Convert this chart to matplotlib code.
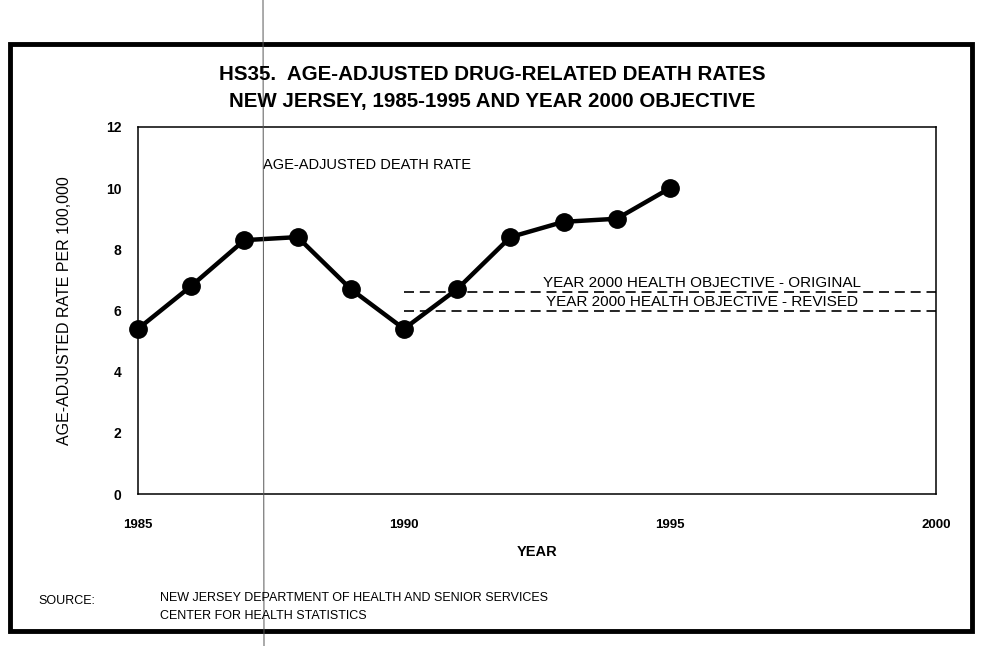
import matplotlib
matplotlib.use("Agg")
import matplotlib.pyplot as plt
from matplotlib.patches import Rectangle
from matplotlib.lines import Line2D

# Age-adjusted drug-related death rates, New Jersey (per 100,000)
years = [1985, 1986, 1987, 1988, 1989, 1990, 1991, 1992, 1993, 1994, 1995]
rates = [5.4, 6.8, 8.3, 8.4, 6.7, 5.4, 6.7, 8.4, 8.9, 9.0, 10.0]

# Year 2000 health objectives
objective_years = [1990, 2000]
objective_original = [6.6, 6.6]
objective_revised = [6.0, 6.0]

x_ticks = [1985, 1990, 1995, 2000]
y_ticks = [0, 2, 4, 6, 8, 10, 12]

W, H = 983, 646
plt.rcParams["font.family"] = ["Liberation Sans", "DejaVu Sans"]


def fx(px):
    return px / W


def fy(py):
    return 1 - py / H


fig = plt.figure(figsize=(W / 100, H / 100), dpi=100)
fig.patch.set_facecolor("white")

# outer page frame
fig.patches.append(Rectangle((fx(10), fy(631)), fx(972) - fx(10), fy(44) - fy(631),
                             transform=fig.transFigure, fill=False,
                             edgecolor="black", linewidth=3.5))
# thin fold line running down the sheet
fig.add_artist(Line2D([fx(263), fx(264)], [1, 0], transform=fig.transFigure,
                      color="#555555", linewidth=0.7))

left, right, top, bottom = 138, 936, 127, 494
ax = fig.add_axes([fx(left), fy(bottom), fx(right) - fx(left), fy(top) - fy(bottom)])

ax.plot(years, rates, color="black", linewidth=3.2, marker="o",
        markersize=12.5, markerfacecolor="black", markeredgecolor="black",
        clip_on=False, zorder=3)
ax.plot(objective_years, objective_original, color="black", linewidth=1.2,
        linestyle=(0, (6, 3.5)))
ax.plot(objective_years, objective_revised, color="black", linewidth=1.2,
        linestyle=(0, (6, 3.5)))

ax.set_xlim(1985, 2000)
ax.set_ylim(0, 12)
ax.set_xticks(x_ticks)
ax.set_yticks(y_ticks)
ax.set_xticklabels([str(v) for v in x_ticks], fontweight="bold", fontsize=9.5)
ax.set_yticklabels([str(v) for v in y_ticks], fontweight="bold", fontsize=10)
ax.tick_params(axis="both", length=0)
ax.tick_params(axis="x", pad=18)
ax.tick_params(axis="y", pad=12)
for s in ax.spines.values():
    s.set_linewidth(1.1)

ax.text(1989.3, 10.75, "AGE-ADJUSTED DEATH RATE", fontsize=10.5,
        ha="center", va="center")
ax.text(1995.6, 6.66, "YEAR 2000 HEALTH OBJECTIVE - ORIGINAL", fontsize=11,
        ha="center", va="bottom")
ax.text(1995.6, 6.04, "YEAR 2000 HEALTH OBJECTIVE - REVISED", fontsize=11,
        ha="center", va="bottom")

ax.set_xlabel("YEAR", fontweight="bold", fontsize=10.5, labelpad=10)
ax.set_ylabel("AGE-ADJUSTED RATE PER 100,000", fontsize=11.5, labelpad=24)

fig.text(fx(492), fy(74), "HS35.  AGE-ADJUSTED DRUG-RELATED DEATH RATES",
         fontsize=14.8, fontweight="bold", ha="center", va="center")
fig.text(fx(492), fy(101), "NEW JERSEY, 1985-1995 AND YEAR 2000 OBJECTIVE",
         fontsize=14.8, fontweight="bold", ha="center", va="center")

fig.text(fx(38), fy(601), "SOURCE:", fontsize=9, ha="left", va="center")
fig.text(fx(160), fy(598), "NEW JERSEY DEPARTMENT OF HEALTH AND SENIOR SERVICES",
         fontsize=9, ha="left", va="center")
fig.text(fx(160), fy(616), "CENTER FOR HEALTH STATISTICS",
         fontsize=9, ha="left", va="center")

fig.savefig("out.png", dpi=100, facecolor="white")
